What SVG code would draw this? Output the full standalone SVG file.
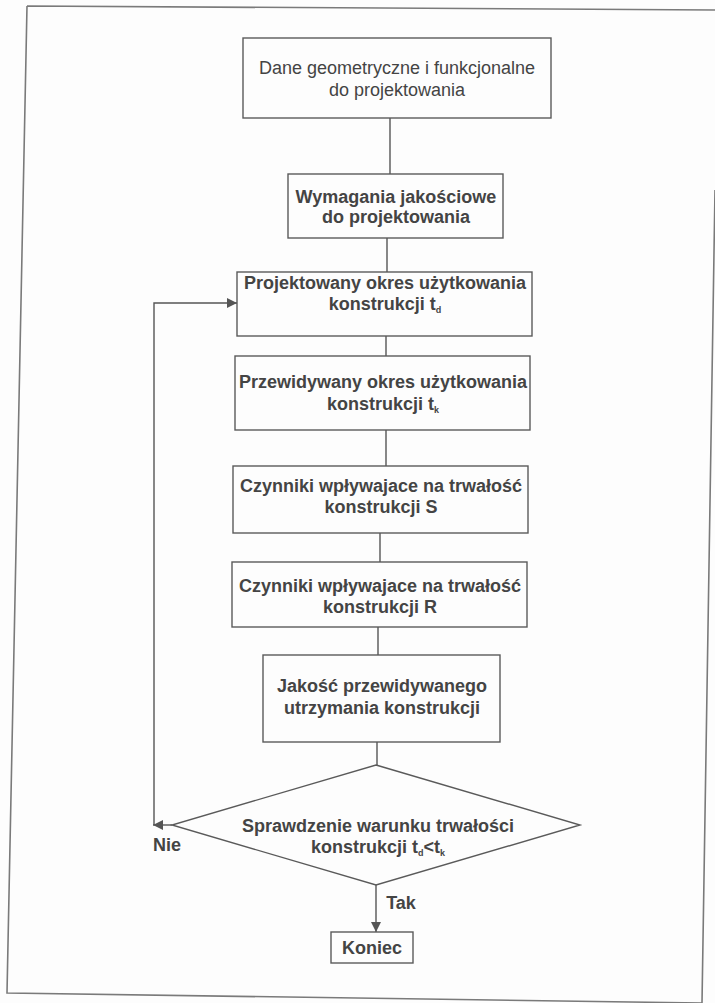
<svg xmlns="http://www.w3.org/2000/svg" width="715" height="1003" viewBox="0 0 715 1003">
<style>
.box{fill:none;stroke:#5a5a5a;stroke-width:1.4}
.ln{fill:none;stroke:#555;stroke-width:1.4}
.frame{fill:none;stroke:#7a7a7a;stroke-width:1.6}
text{font-family:"Liberation Sans",Arial,sans-serif;font-size:18px;font-weight:bold;fill:#444;text-anchor:middle}
text.reg{font-weight:normal}
.sub{font-size:9px}
</style>
<defs>
<marker id="ah" viewBox="0 0 10 10" refX="10" refY="5" markerWidth="10" markerHeight="10" markerUnits="userSpaceOnUse" orient="auto">
<path d="M0,0 L10,5 L0,10 z" fill="#555"/>
</marker>
</defs>
<rect width="715" height="1003" fill="#fdfdfd"/>
<g id="frame">
<path class="frame" d="M27,6 L715,10 M27,6 L7,993 L702,1003 M715,190 L702,1003"/>
</g>
<g id="connectors">
<line class="ln" x1="390" y1="118" x2="390" y2="174"/>
<line class="ln" x1="387" y1="238" x2="387" y2="272"/>
<line class="ln" x1="386" y1="336" x2="386" y2="356"/>
<line class="ln" x1="386" y1="430" x2="386" y2="466"/>
<line class="ln" x1="380" y1="533" x2="380" y2="562"/>
<line class="ln" x1="378" y1="627" x2="378" y2="655"/>
<line class="ln" x1="377" y1="742" x2="377" y2="765"/>
<line class="ln" x1="376" y1="885" x2="376" y2="932" marker-end="url(#ah)"/>
<line class="ln" x1="172" y1="825" x2="153" y2="825" marker-end="url(#ah)"/>
<polyline class="ln" points="154,825 154,303 237,303" marker-end="url(#ah)"/>
<text x="167" y="851">Nie</text>
<text x="401" y="909">Tak</text>
</g>
<g id="n1">
<rect class="box" x="243" y="38" width="308" height="80"/>
<text class="reg" x="397" y="74">Dane geometryczne i funkcjonalne</text>
<text class="reg" x="397" y="96">do projektowania</text>
</g>
<g id="n2">
<rect class="box" x="288" y="174" width="215" height="64"/>
<text x="396" y="203">Wymagania jakościowe</text>
<text x="396" y="223">do projektowania</text>
</g>
<g id="n3">
<rect class="box" x="237" y="272" width="295" height="64"/>
<text x="385" y="289">Projektowany okres użytkowania</text>
<text x="385" y="310">konstrukcji t<tspan class="sub" dy="3">d</tspan></text>
</g>
<g id="n4">
<rect class="box" x="235" y="356" width="295" height="74"/>
<text x="383" y="388">Przewidywany okres użytkowania</text>
<text x="383" y="410">konstrukcji t<tspan class="sub" dy="3">k</tspan></text>
</g>
<g id="n5">
<rect class="box" x="233" y="466" width="295" height="67"/>
<text x="381" y="492">Czynniki wpływajace na trwałość</text>
<text x="381" y="513">konstrukcji S</text>
</g>
<g id="n6">
<rect class="box" x="232" y="562" width="295" height="65"/>
<text x="380" y="592">Czynniki wpływajace na trwałość</text>
<text x="380" y="613">konstrukcji R</text>
</g>
<g id="n7">
<rect class="box" x="263" y="655" width="237" height="87"/>
<text x="382" y="692">Jakość przewidywanego</text>
<text x="382" y="714">utrzymania konstrukcji</text>
</g>
<g id="n8">
<polygon class="box" points="376,765 580,825 376,885 172,825"/>
<text x="378" y="832">Sprawdzenie warunku trwałości</text>
<text x="378" y="853">konstrukcji t<tspan class="sub" dy="3">d</tspan><tspan dy="-3">&lt;t</tspan><tspan class="sub" dy="3">k</tspan></text>
</g>
<g id="n9">
<rect class="box" x="331" y="932" width="82" height="31"/>
<text x="372" y="954">Koniec</text>
</g>
</svg>
